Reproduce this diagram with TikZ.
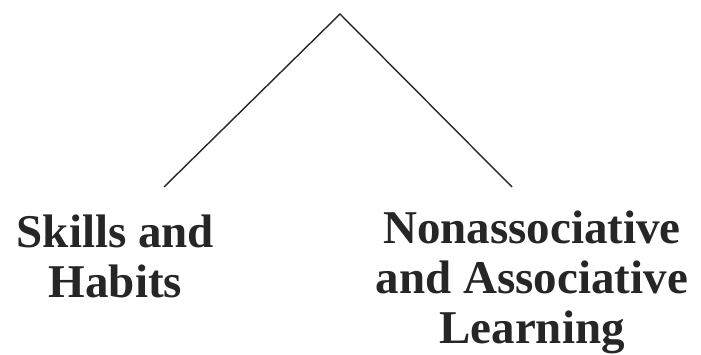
\documentclass[tikz,border=0pt]{standalone}
\usepackage{fontspec}
\setmainfont{Liberation Serif}
\tikzset{
  branch/.style={draw=black!85, line width=1.4pt},
  label/.style={font=\bfseries\fontsize{47}{50}\selectfont, align=center, inner sep=0pt, anchor=base, text=black!85}
}
\begin{document}
\begin{tikzpicture}[x=1pt,y=-1pt]
\useasboundingbox (0,0) rectangle (701,355);
\coordinate (apex) at (340,14);
\coordinate (lend) at (164,187);
\coordinate (rend) at (512,187);
\draw[branch] (lend) -- (apex) -- (rend);
\node[label] (skills) at (115.5,298) {Skills and\\Habits};
\node[label] (learn) at (532,343) {Nonassociative\\and Associative\\Learning};
\end{tikzpicture}
\end{document}
